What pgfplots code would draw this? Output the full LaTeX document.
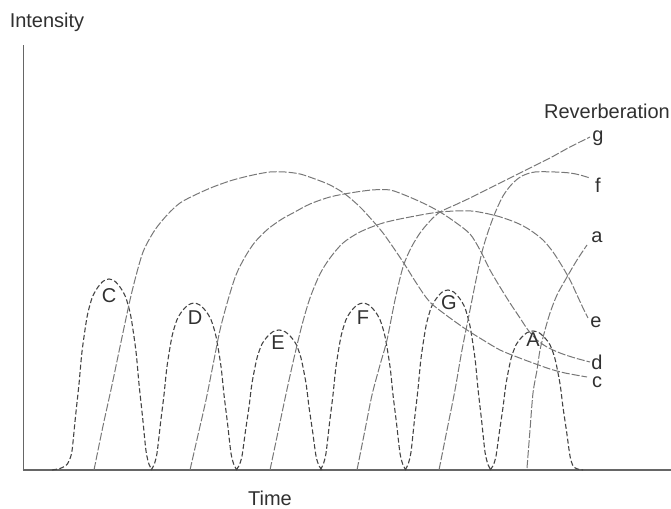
\documentclass[border=0pt]{standalone}
\usepackage{pgfplots}
\pgfplotsset{compat=1.18}
\usepackage{fontspec}
\setmainfont{Liberation Sans}
\definecolor{peakc}{HTML}{444444}
\definecolor{revc}{HTML}{777777}
\definecolor{axc}{HTML}{666666}
\definecolor{txtc}{HTML}{303030}
\tikzset{lab/.style={font=\fontsize{20bp}{23bp}\selectfont, text=txtc, inner sep=0pt}}
\begin{document}
\begin{tikzpicture}
\begin{axis}[
  x=1bp, y=1bp,
  xmin=0, xmax=671, ymin=-39, ymax=470,
  axis lines=none, clip=false,
  peak/.style={peakc, line width=1.1bp, dash pattern=on 5bp off 2.5bp, smooth, tension=0.45},
  rev/.style={revc, line width=1bp, dash pattern=on 8bp off 2bp, smooth, tension=0.5},
]
% axes
\draw[axc, line width=1.6bp] (axis cs:23.5,0) -- (axis cs:23.5,425);
\draw[axc, line width=2bp] (axis cs:22.7,0) -- (axis cs:671,0);

% peaks
\addplot[peak] coordinates {(52,0) (60,1.5) (66,4.5) (69,9) (72,19.1) (75.5,53.5) (79,86) (82,118.4) (87,152.8) (92,171.9) (97,181.5) (103,188.7) (109,191) (115,188.7) (121,181.5) (126,171.9) (131,152.8) (136,118.4) (139,86) (142.5,53.5) (146,19.1) (149,5.7) (152,0)};
\addplot[peak] coordinates {(151,0) (154,5) (157,16.7) (160.5,46.8) (164,75.2) (167,103.5) (172,133.6) (177,150.3) (182,158.7) (188,164.9) (194,167) (200,164.9) (206,158.7) (211,150.3) (216,133.6) (221,103.5) (224,75.2) (227.5,46.8) (231,16.7) (234,5) (237,0)};
\addplot[peak] coordinates {(236,0) (239,4.2) (242,14) (245.5,39.2) (249,63) (252,86.8) (257,112) (262,126) (267,133) (273,138.3) (279,140) (285,138.3) (291,133) (296,126) (301,112) (306,86.8) (309,63) (312.5,39.2) (316,14) (319,4.2) (322,0)};
\addplot[peak] coordinates {(320,0) (323,5) (326,16.7) (329.5,46.8) (333,75.2) (336,103.5) (341,133.6) (346,150.3) (351,158.7) (357,164.9) (363,167) (369,164.9) (375,158.7) (380,150.3) (385,133.6) (390,103.5) (393,75.2) (396.5,46.8) (400,16.7) (403,5) (406,0)};
\addplot[peak] coordinates {(405,0) (408,5.4) (411,18) (414.5,50.4) (418,81) (421,111.6) (426,144) (431,162) (436,171) (442,177.8) (448,180) (454,177.8) (460,171) (465,162) (470,144) (475,111.6) (478,81) (481.5,50.4) (485,18) (488,5.4) (491,0)};
\addplot[peak] coordinates {(490,0) (493,4.2) (496,13.9) (499.5,38.9) (503,62.6) (506,86.2) (511,111.2) (516,125.1) (521,132) (527,137.3) (533,139) (539,137.3) (545,132) (550,125.1) (555,111.2) (560,86.2) (563,62.6) (566.5,38.9) (570,13.9) (573,4.2) (577,1.2) (583,0)};

% reverberation curves
% c
\addplot[rev] coordinates {(94,0) (103,44) (112,85) (121,128) (130,170) (137,198) (143,218) (150,232) (157,243) (168,256) (180,267) (195,275) (213,283) (233,290) (253,295) (270,298) (285,298) (300,296) (315,291) (330,285) (345,276) (360,263) (372,250) (383,237) (395,220) (405,205) (415,189) (425,174) (433,165) (450,152) (467,140) (483,130) (500,120) (517,113) (533,107) (550,101) (565,97) (587,93)};
% d
\addplot[rev] coordinates {(190,0) (198,35) (206,70) (213,105) (220,140) (228,170) (236,195) (245,213) (255,228) (268,241) (282,251) (293,257) (310,266) (330,273) (350,277) (372,280) (390,280) (407,274) (425,266) (440,258) (455,248) (470,236) (480,220) (490,200) (500,183) (510,167) (520,152) (528,140) (537,130) (547,123) (560,117) (575,112) (590,108)};
% e
\addplot[rev] coordinates {(270,0) (278,38) (286,76) (294,112) (302,145) (310,172) (320,196) (330,212) (343,227) (360,238) (383,247) (410,253) (440,258) (471,259) (497,254) (517,247) (530,240) (543,230) (553,218) (562,204) (570,190) (577,175) (583,162) (588,152)};
% g
\addplot[rev] coordinates {(357,0) (365,40) (372,75) (380,105) (387,130) (395,170) (403,203) (411,222) (420,237) (430,249) (440,258) (455,265) (470,272) (490,282) (510,292) (530,302) (550,312) (570,323) (590,333)};
% f
\addplot[rev] coordinates {(439,0) (447,40) (455,80) (462,120) (470,160) (476,190) (482,218) (488,238) (495,257) (503,274) (512,286) (522,294) (535,298) (555,298) (570,297) (580,295) (590,292)};
% a
\addplot[rev] coordinates {(527,2) (530,40) (533,77) (537,100) (540,120) (545,140) (550,157) (557,175) (567,193) (577,210) (587,225)};

% labels
\node[lab] at (axis cs:47,448) {Intensity};
\node[lab] at (axis cs:270,-28) {Time};
\node[lab, anchor=east] at (axis cs:670,359) {Reverberation};
\node[lab] at (axis cs:598,332) {g};
\node[lab] at (axis cs:598,285) {f};
\node[lab] at (axis cs:597,233) {a};
\node[lab] at (axis cs:596,148) {e};
\node[lab] at (axis cs:597,108) {d};
\node[lab] at (axis cs:597,88) {c};
\node[lab] at (axis cs:109,174) {C};
\node[lab] at (axis cs:195,152) {D};
\node[lab] at (axis cs:278,127) {E};
\node[lab] at (axis cs:363,152) {F};
\node[lab] at (axis cs:449,167) {G};
\node[lab] at (axis cs:533,130) {A};

\coordinate (BL) at (axis cs:0,-39);
\coordinate (TR) at (axis cs:671,470);
\end{axis}
\pgfresetboundingbox
\useasboundingbox (BL) rectangle (TR);
\end{tikzpicture}
\end{document}
